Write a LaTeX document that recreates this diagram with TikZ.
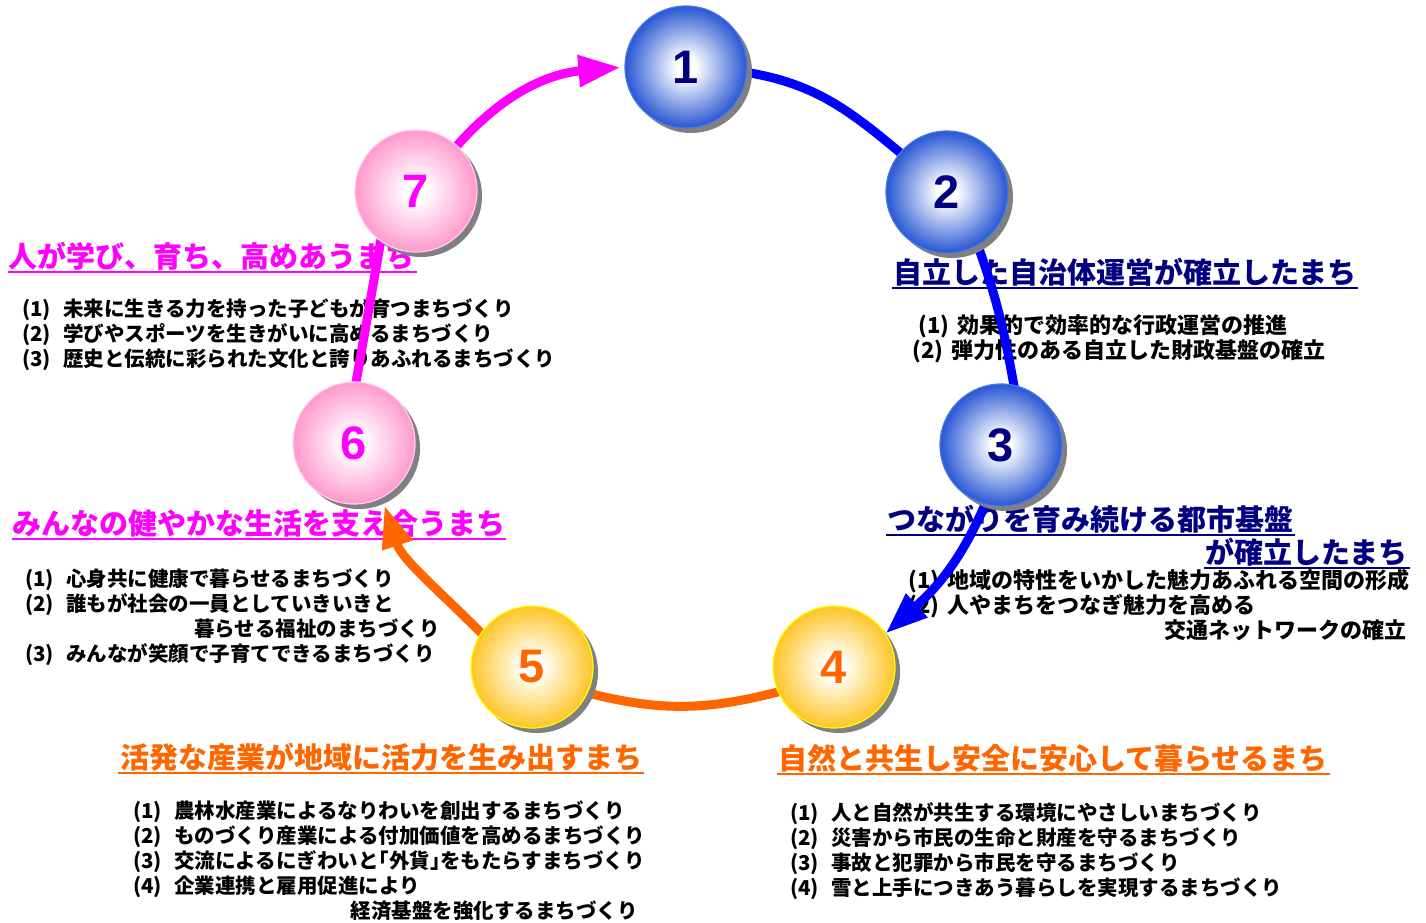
\documentclass[tikz,border=0pt]{standalone}
\usepackage{fontspec}
\setmainfont{Liberation Sans}
\newfontfamily\jp{Noto Sans CJK JP}
\usetikzlibrary{arrows.meta,shadows}
\definecolor{navy}{HTML}{000080}
\definecolor{mag}{HTML}{FF00FF}
\definecolor{orng}{HTML}{FF6600}
\definecolor{lblue}{HTML}{0000FF}
\definecolor{ballB}{HTML}{2857D4}
\definecolor{ballP}{HTML}{FF99CC}
\definecolor{ballY}{HTML}{FFC526}
\definecolor{bdB}{HTML}{4A78E8}
\definecolor{bdP}{HTML}{FFCCF2}
\definecolor{bdY}{HTML}{FFFF00}
\pgfdeclareradialshading{shB}{\pgfpoint{0bp}{0bp}}{color(0bp)=(white);color(4bp)=(white);color(25bp)=(ballB);color(50bp)=(ballB)}
\pgfdeclareradialshading{shP}{\pgfpoint{0bp}{0bp}}{color(0bp)=(white);color(4bp)=(white);color(25bp)=(ballP);color(50bp)=(ballP)}
\pgfdeclareradialshading{shY}{\pgfpoint{0bp}{0bp}}{color(0bp)=(white);color(4bp)=(white);color(25bp)=(ballY);color(50bp)=(ballY)}
\pgfdeclarelayer{txt}
\pgfdeclarelayer{lns}
\pgfsetlayers{txt,lns,main}
\newcommand\pn[1]{(#1)\hspace{0.6em}}
\newcommand\pnb[1]{(#1)\hspace{0.38em}}
\newcommand\lbk{\makebox[0.5em][r]{「}}
\newcommand\rbk{\makebox[0.5em][l]{」}}
\begin{document}
\begin{tikzpicture}[x=1pt,y=-1pt,
  ball/.style={circle,minimum size=122pt,inner sep=0pt,line width=1.2pt,
    font=\fontsize{47}{47}\selectfont\bfseries,
    drop shadow={shadow xshift=5pt,shadow yshift=-5pt,fill=black!50,opacity=1}},
  bballs/.style={ball,shading=shB,draw=bdB,text=navy},
  pballs/.style={ball,shading=shP,draw=bdP,text=mag},
  yballs/.style={ball,shading=shY,draw=bdY,text=orng},
  ttl/.style={inner sep=0pt,anchor=base west,font=\jp\fontsize{29}{29}\selectfont\bfseries},
  ttlr/.style={ttl,anchor=base east},
  itm/.style={inner sep=0pt,anchor=base west,font=\jp\fontsize{20.5}{20.5}\selectfont\bfseries},
  itmr/.style={itm,anchor=base east},
  itmb/.style={inner sep=0pt,anchor=base west,font=\jp\fontsize{22}{22}\selectfont\bfseries},
  itmbr/.style={itmb,anchor=base east},
  ul/.style={line width=1.6pt},
  conn/.style={line width=9pt},
  bigtip/.style={-{Triangle[length=42pt,width=30pt]}},
]
\useasboundingbox (0,0) rectangle (1426,922);

% circles
\node[bballs] (c1) at (686,67) {1};
\node[bballs] (c2) at (947,192) {2};
\node[bballs] (c3) at (1001,445) {3};
\node[yballs] (c4) at (834,667) {4};
\node[yballs] (c5) at (532,667) {5};
\node[pballs] (c6) at (354,443) {6};
\node[pballs] (c7) at (416,191) {7};

\begin{pgfonlayer}{txt}
% group 7
\node[ttl,text=mag] (t7) at (8,267) {人が学び、育ち、高めあうまち};
\draw[ul,mag] ([yshift=-5pt]t7.base west) -- ([yshift=-5pt,xshift=3pt]t7.base east);
\node[itm] (i7a) at (22,316) {\pn{1}未来に生きる力を持った子どもが育つまちづくり};
\node[itm] (i7b) at (22,341) {\pn{2}学びやスポーツを生きがいに高めるまちづくり};
\node[itm] (i7c) at (22,366) {\pn{3}歴史と伝統に彩られた文化と誇りあふれるまちづくり};
% group 6
\node[ttl,text=mag] (t6) at (12,534) {みんなの健やかな生活を支え合うまち};
\draw[ul,mag] ([yshift=-5pt]t6.base west) -- ([yshift=-5pt,xshift=1pt]t6.base east);
\node[itm] (i6a) at (25,586) {\pn{1}心身共に健康で暮らせるまちづくり};
\node[itm] (i6b) at (25,611) {\pn{2}誰もが社会の一員としていきいきと};
\node[itmr] (i6c) at (440,636) {暮らせる福祉のまちづくり};
\node[itm] (i6d) at (25,661) {\pn{3}みんなが笑顔で子育てできるまちづくり};
% group 5
\node[ttl,text=orng] (t5) at (120,768) {活発な産業が地域に活力を生み出すまち};
\draw[ul,orng] ([yshift=-5pt,xshift=-2pt]t5.base west) -- ([yshift=-5pt,xshift=2pt]t5.base east);
\node[itm] (i5a) at (133,818) {\pn{1}農林水産業によるなりわいを創出するまちづくり};
\node[itm] (i5b) at (133,843) {\pn{2}ものづくり産業による付加価値を高めるまちづくり};
\node[itm] (i5c) at (133,868) {\pn{3}交流によるにぎわいと\lbk 外貨\rbk をもたらすまちづくり};
\node[itm] (i5d) at (133,893) {\pn{4}企業連携と雇用促進により};
\node[itmr] (i5e) at (638,918) {経済基盤を強化するまちづくり};
% group 4
\node[ttl,text=orng] (t4) at (778,769) {自然と共生し安全に安心して暮らせるまち};
\draw[ul,orng] ([yshift=-5pt,xshift=-1pt]t4.base west) -- ([yshift=-5pt,xshift=2pt]t4.base east);
\node[itm] (i4a) at (790,820) {\pn{1}人と自然が共生する環境にやさしいまちづくり};
\node[itm] (i4b) at (790,845) {\pn{2}災害から市民の生命と財産を守るまちづくり};
\node[itm] (i4c) at (790,870) {\pn{3}事故と犯罪から市民を守るまちづくり};
\node[itm] (i4d) at (790,895) {\pn{4}雪と上手につきあう暮らしを実現するまちづくり};
% group 3
\node[ttl,text=navy] (t3a) at (887,530) {つながりを育み続ける都市基盤};
\draw[ul,navy] ([yshift=-5pt,xshift=-1pt]t3a.base west) -- ([yshift=-5pt,xshift=2pt]t3a.base east);
\node[ttlr,text=navy] (t3b) at (1408,563) {が確立したまち};
\draw[ul,navy] ([yshift=-5pt,xshift=-1pt]t3b.base west) -- ([yshift=-5pt,xshift=2pt]t3b.base east);
\node[itmb] (i3a) at (908,588) {\pnb{1}地域の特性をいかした魅力あふれる空間の形成};
\node[itmb] (i3b) at (908,613) {\pnb{2}人やまちをつなぎ魅力を高める};
\node[itmbr] (i3c) at (1407,638) {交通ネットワークの確立};
% group 2
\node[ttl,text=navy] (t2) at (893,283) {自立した自治体運営が確立したまち};
\draw[ul,navy] ([yshift=-5pt,xshift=-1pt]t2.base west) -- ([yshift=-5pt,xshift=1pt]t2.base east);
\node[itmb] (i2a) at (918,333) {\pnb{1}効果的で効率的な行政運営の推進};
\node[itmb] (i2b) at (912,358) {\pnb{2}弾力性のある自立した財政基盤の確立};
\end{pgfonlayer}

\begin{pgfonlayer}{lns}
\draw[conn,lblue,shorten <=-10pt,shorten >=-10pt] (c1.-5) to[out=-8,in=140] (c2.140);
\draw[conn,lblue,shorten <=-10pt,shorten >=-10pt] (c2.-60) to[out=-70,in=100] (c3.78);
\draw[conn,lblue,bigtip,shorten <=-10pt] (c3.-105) to[out=-112,in=42] (c4.33);
\draw[conn,orng,shorten <=-10pt,shorten >=-10pt] (c4.204) to[out=195,in=-15] (c5.-25);
\draw[conn,orng,bigtip,shorten <=-10pt,shorten >=8pt] (c5.146) to[out=135,in=-72] (c6.-63);
\draw[conn,mag,shorten <=-10pt,shorten >=-10pt] (c6.88) to[out=80,in=-100] (c7.-125);
\draw[conn,mag,bigtip,shorten <=-10pt,shorten >=4pt] (c7.48) to[out=50,in=185] (c1.180);
\end{pgfonlayer}
\end{tikzpicture}
\end{document}
